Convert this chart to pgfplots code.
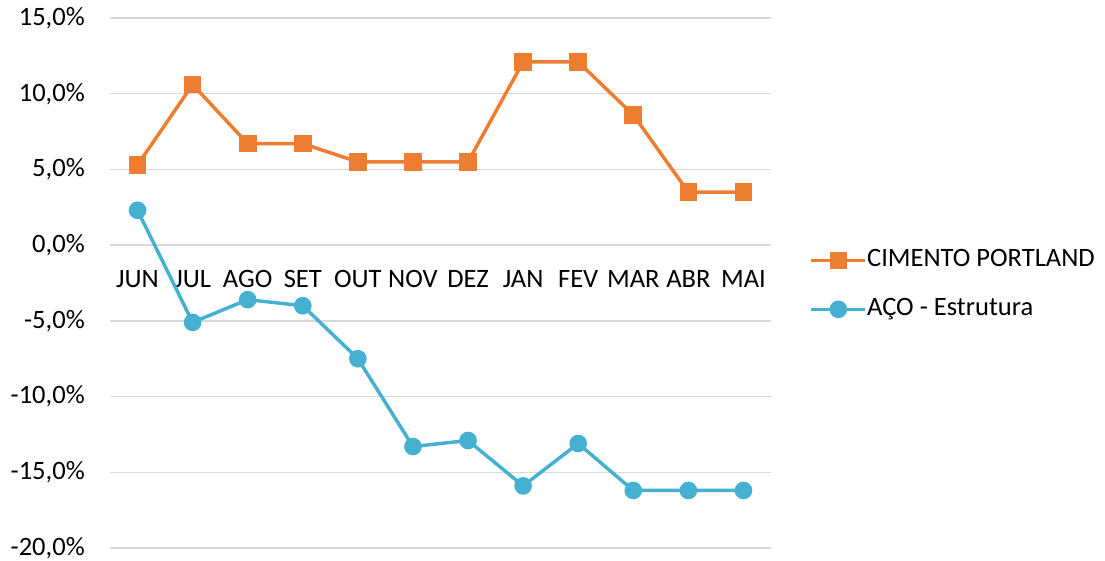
\documentclass[border=0pt]{standalone}
\usepackage{fontspec}
\setmainfont{Carlito}
\usepackage{pgfplots}
\pgfplotsset{compat=1.18}

\definecolor{cimento}{HTML}{ED7D31}
\definecolor{aco}{HTML}{45B0CF}
\definecolor{grade}{HTML}{D9D9D9}

\begin{document}
\begin{tikzpicture}
\begin{axis}[
  name=ax,
  scale only axis,
  width=495.75pt, height=397.5pt,
  xmin=-0.5, xmax=11.5, ymin=-20, ymax=15,
  font=\fontsize{19.9}{23}\selectfont,
  axis x line*=middle, axis y line*=left,
  axis line style={draw=none},
  x axis line style={draw=none},
  hide obscured x ticks=false,
  major tick length=0pt, tick style={draw=none},
  xtick={0,...,11},
  xticklabels={JUN,JUL,AGO,SET,OUT,NOV,DEZ,JAN,FEV,MAR,ABR,MAI},
  xticklabel style={anchor=north, inner sep=0pt, yshift=-18.75pt},
  ytick={-20,-15,...,15},
  yticklabel={\pgfmathprintnumber[fixed,fixed zerofill,precision=1,use comma,assume math mode=true]{\tick}\%},
  yticklabel style={anchor=east, inner sep=0pt, xshift=-18.75pt},
  ymajorgrids,
  grid style={grade, line width=1pt},
  legend style={at={(1,0.5)}, anchor=west, xshift=29pt, yshift=-1.5pt, draw=none, fill=none,
    inner sep=0pt, outer sep=0pt, row sep=17.5pt,
    nodes={inner sep=0pt, text height=14pt, text depth=5pt}},
  legend cell align=left,
  legend image code/.code={\draw[mark repeat=2,mark phase=2] plot coordinates {(0pt,0pt) (20.25pt,0pt) (40.5pt,0pt)};},
  /tikz/every odd column/.append style={xshift=-3pt},
  clip=false,
]
\addplot[cimento, line width=2.6pt, mark=square*, mark size=5.3pt, mark options={solid}] coordinates {
 (0,5.3) (1,10.6) (2,6.7) (3,6.7) (4,5.5) (5,5.5) (6,5.5)
 (7,12.1) (8,12.1) (9,8.6) (10,3.5) (11,3.5)};
\addlegendentry{CIMENTO PORTLAND}
\addplot[aco, line width=2.6pt, mark=*, mark size=5.3pt, mark options={solid}] coordinates {
 (0,2.3) (1,-5.1) (2,-3.6) (3,-4.0) (4,-7.5) (5,-13.3) (6,-12.9)
 (7,-15.9) (8,-13.1) (9,-16.2) (10,-16.2) (11,-16.2)};
\addlegendentry{AÇO - Estrutura}
\end{axis}
\pgfresetboundingbox
\path[use as bounding box] ([shift={(-82.5pt,-9pt)}]ax.south west) rectangle ([shift={(250.5pt,13.5pt)}]ax.north east);
\end{tikzpicture}
\end{document}
